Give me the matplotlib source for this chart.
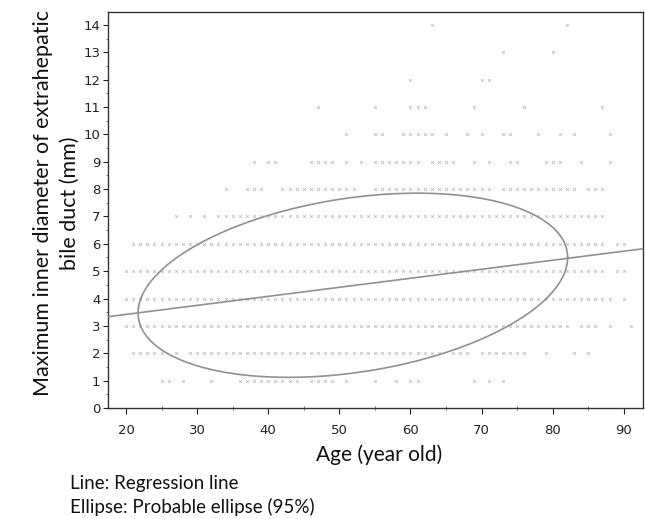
import numpy as np
import matplotlib
matplotlib.use("Agg")
import matplotlib.pyplot as plt
from matplotlib.ticker import MultipleLocator

age_1mm = [25, 26, 28, 32, 36, 37, 38, 39, 40, 41, 42, 43, 44, 46, 47, 48, 49, 51,
           55, 58, 60, 61, 69, 71, 73]
age_2mm = [21, 22, 23, 24, 25, 27, 29, 30, 31, 32, 33, 34, 35, 36, 37, 38, 39, 40,
           41, 42, 43, 44, 45, 46, 47, 48, 49, 50, 51, 52, 53, 54, 55, 56, 57, 58,
           59, 60, 61, 62, 63, 64, 66, 67, 68, 70, 71, 72, 73, 74, 75, 76, 79, 83, 85]
age_3mm = [20, 21, 22, 23, 24, 25, 26, 27, 28, 29, 30, 31, 32, 33, 34, 35, 36, 37,
           38, 39, 40, 41, 42, 43, 44, 45, 46, 47, 48, 49, 50, 51, 52, 53, 54, 55,
           56, 57, 58, 59, 60, 61, 62, 63, 64, 65, 66, 67, 68, 69, 70, 71, 72, 73,
           74, 75, 76, 77, 78, 79, 80, 81, 82, 84, 85, 86, 88, 91]
age_4mm = [20, 21, 22, 23, 24, 25, 26, 27, 28, 29, 30, 31, 32, 33, 34, 35, 36, 37,
           38, 39, 40, 41, 42, 43, 44, 45, 46, 47, 48, 49, 50, 51, 52, 53, 54, 55,
           56, 57, 58, 59, 60, 61, 62, 63, 64, 65, 66, 67, 68, 69, 70, 71, 72, 73,
           74, 75, 76, 77, 78, 79, 80, 81, 82, 83, 84, 85, 86, 87, 88, 90]
age_5mm = [20, 21, 22, 23, 24, 25, 26, 27, 28, 29, 30, 31, 32, 33, 34, 35, 36, 37,
           38, 39, 40, 41, 42, 43, 44, 45, 46, 47, 48, 49, 50, 51, 52, 53, 54, 55,
           56, 57, 58, 59, 60, 61, 62, 63, 64, 65, 66, 67, 68, 69, 70, 71, 72, 73,
           74, 75, 76, 77, 78, 79, 80, 81, 82, 83, 84, 85, 86, 87, 89, 90]
age_6mm = [21, 22, 23, 24, 25, 26, 27, 28, 29, 30, 31, 32, 33, 34, 35, 36, 37, 38,
           39, 40, 41, 42, 43, 44, 45, 46, 47, 48, 49, 50, 51, 52, 53, 54, 55, 56,
           57, 58, 59, 60, 61, 62, 63, 64, 65, 66, 67, 68, 69, 70, 71, 72, 73, 74,
           75, 76, 77, 78, 79, 80, 81, 82, 83, 84, 85, 86, 87, 89, 90]
age_7mm = [27, 29, 31, 33, 34, 35, 36, 37, 38, 39, 40, 41, 42, 43, 44, 45, 46, 47,
           48, 49, 50, 51, 52, 53, 54, 55, 56, 57, 58, 59, 60, 61, 62, 63, 64, 65,
           66, 67, 68, 69, 70, 71, 72, 73, 74, 75, 76, 77, 78, 79, 80, 81, 82, 83,
           84, 85, 86, 87]
age_8mm = [34, 37, 38, 39, 42, 43, 44, 45, 46, 47, 48, 49, 50, 51, 52, 55, 56, 57,
           58, 59, 60, 61, 62, 63, 64, 65, 66, 67, 68, 69, 70, 71, 73, 74, 75, 76,
           77, 78, 79, 80, 81, 82, 83, 85, 86, 87]
age_9mm = [38, 40, 41, 46, 47, 48, 49, 51, 53, 55, 56, 57, 58, 59, 60, 61, 63, 64,
           65, 66, 69, 71, 74, 75, 79, 80, 81, 84, 88]
age_10mm = [51, 55, 56, 59, 60, 61, 62, 63, 65, 68, 70, 73, 74, 78, 81, 83, 88]
age_11mm = [47, 55, 60, 61, 62, 69, 76, 87]
age_12mm = [60, 70, 71]
age_13mm = [73, 80]
age_14mm = [63, 82]

rows = [age_1mm, age_2mm, age_3mm, age_4mm, age_5mm, age_6mm, age_7mm,
        age_8mm, age_9mm, age_10mm, age_11mm, age_12mm, age_13mm, age_14mm]
diameters = list(range(1, 15))

# regression line y = a + b*x
reg_intercept = 2.76
reg_slope = 0.033

# 95% probable ellipse: centre, half extents along x / y, correlation
ell_cx, ell_cy = 51.9, 4.485
ell_ax, ell_ay = 30.2, 3.365
ell_r = 0.30

xs = np.concatenate([np.array(r, dtype=float) for r in rows])
ys = np.concatenate([np.full(len(r), d, dtype=float) for r, d in zip(rows, diameters)])

fig = plt.figure(figsize=(6.45, 5.19), dpi=100)
ax = fig.add_axes([108 / 645, 1 - 408 / 519, 535 / 645, 396 / 519])

ax.scatter(xs, ys, marker="x", s=4, linewidths=0.5, color="#b4b4b4", zorder=2)

xlim = (17.47, 92.7)
xx = np.array(xlim)
ax.plot(xx, reg_intercept + reg_slope * xx, color="#909090", lw=1.2, zorder=3)

t = np.linspace(0, 2 * np.pi, 400)
ex = ell_cx + ell_ax * np.cos(t)
ey = ell_cy + ell_ay * (ell_r * np.cos(t) + np.sqrt(1 - ell_r ** 2) * np.sin(t))
ax.plot(ex, ey, color="#909090", lw=1.2, zorder=3)

ax.set_xlim(*xlim)
ax.set_ylim(0, 14.47)
ax.set_xticks(np.arange(20, 91, 10))
ax.set_yticks(np.arange(0, 15, 1))
ax.xaxis.set_minor_locator(MultipleLocator(5))
ax.yaxis.set_minor_locator(MultipleLocator(0.5))

for s in ax.spines.values():
    s.set_color("#333333")
    s.set_linewidth(1.0)

ax.tick_params(axis="x", which="major", direction="out", length=4.5, width=0.8,
               pad=7, labelsize=9.5, colors="#222222")
ax.tick_params(axis="x", which="minor", direction="inout", length=3, width=0.6,
               colors="#555555")
ax.tick_params(axis="y", which="major", direction="out", length=3.5, width=0.8,
               pad=2, labelsize=9.5, colors="#222222")
ax.tick_params(axis="y", which="minor", direction="out", length=1.8, width=0.6,
               colors="#555555")
for lab in ax.get_xticklabels() + ax.get_yticklabels():
    lab.set_family("DejaVu Sans")

lab_font = ["Lato", "DejaVu Sans"]
fig.text(379 / 645, 1 - 455 / 519, "Age (year old)", ha="center", va="center",
         fontsize=15, family=lab_font, color="#111111")
fig.text(56.5 / 645, 1 - 203 / 519,
         "Maximum inner diameter of extrahepatic\nbile duct (mm)",
         rotation=90, ha="center", va="center", multialignment="center",
         linespacing=1.4, fontsize=15.5, family=lab_font, color="#111111")
fig.text(70 / 645, 1 - 484 / 519, "Line: Regression line", ha="left", va="center",
         fontsize=13.5, family=lab_font, color="#111111")
fig.text(70 / 645, 1 - 507 / 519, "Ellipse: Probable ellipse (95%)", ha="left",
         va="center", fontsize=13.5, family=lab_font, color="#111111")

fig.savefig("out.png", dpi=100)
